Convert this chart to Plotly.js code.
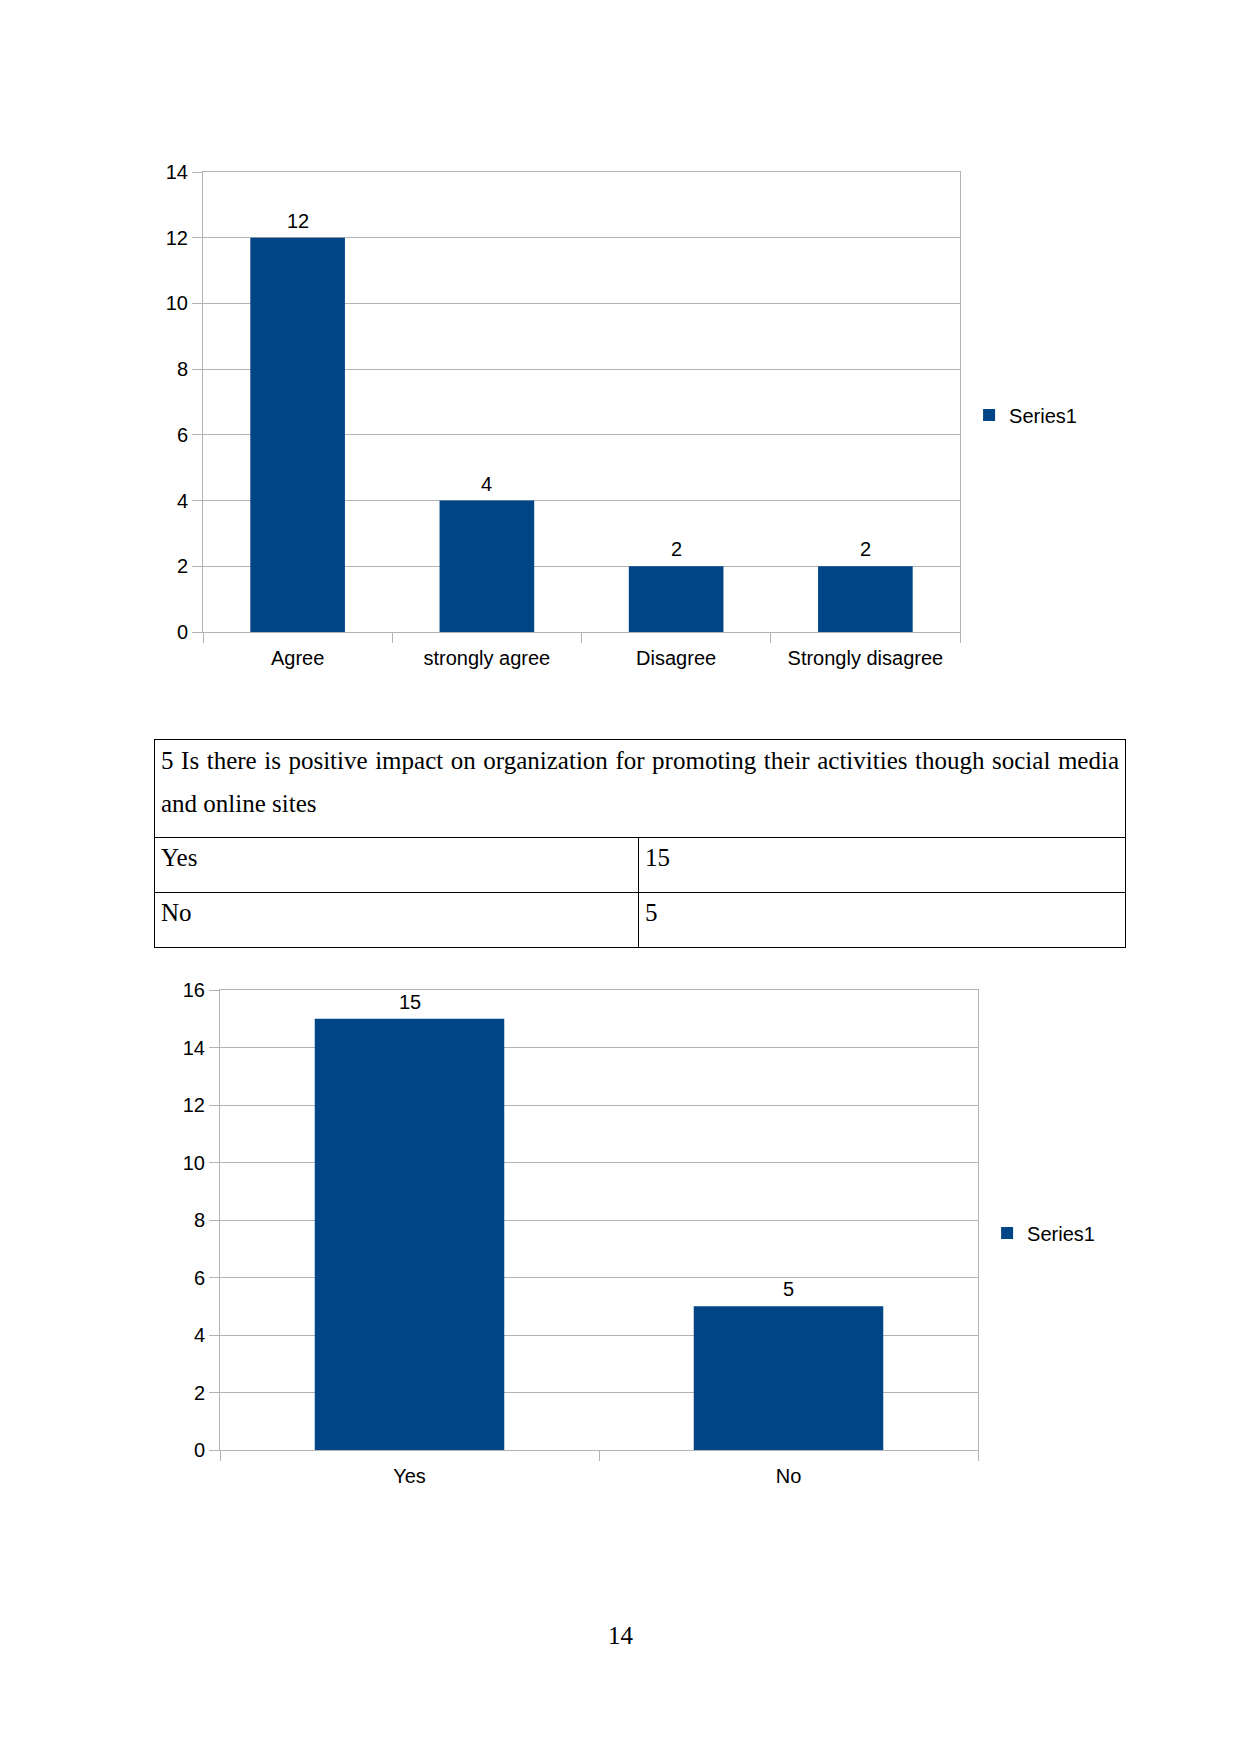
<!DOCTYPE html>
<html>
<head>
<meta charset="utf-8">
<script src="https://cdn.plot.ly/plotly-3.0.1.min.js"></script>
<style>
  html, body { margin: 0; padding: 0; background: #fff; }
  #page { position: relative; width: 1241px; height: 1754px; background: #fff; overflow: hidden; }
  #chart1 { position: absolute; left: 0; top: 100px; width: 1241px; height: 600px; }
  #chart2 { position: absolute; left: 0; top: 960px; width: 1241px; height: 580px; }
  #tbl { position: absolute; left: 154px; top: 739px; width: 972px; border-collapse: collapse;
         font-family: "Liberation Serif", "Times New Roman", serif; font-size: 25px; line-height: 42.5px; color: #000; }
  #tbl td { border: 1px solid #000; vertical-align: top; padding: 0 6px; }
  #tbl td.head { text-align: justify; height: 97px; padding-top: 0; }
  #tbl td.row { height: 54px; line-height: 39px; }
  #pnum { position: absolute; left: 0; width: 1241px; top: 1622px; text-align: center;
          font-family: "Liberation Serif", "Times New Roman", serif; font-size: 25px; color: #000; }
</style>
</head>
<body>
<div id="page">
  <div id="chart1"></div>
  <table id="tbl"></table>
  <div id="chart2"></div>
  <div id="pnum"></div>
</div>
<script>
// ---- data ----
const agreeCategories = ["Agree", "strongly agree", "Disagree", "Strongly disagree"];
const agreeValues = [12, 4, 2, 2];

const impactQuestion = "5 Is there is positive impact on organization for promoting their activities though social media and online sites";
const impactCategories = ["Yes", "No"];
const impactValues = [15, 5];

const seriesName = "Series1";
const pageNumber = "14";

// ---- styles ----
const BAR_COLOR = "#004586";
const GRID = "#b3b3b3";
const FONT = '"Liberation Sans", Arial, sans-serif';

function makeChart(divId, cats, vals, ymax, height, margin) {
  const trace = {
    type: "bar", x: cats, y: vals, name: seriesName,
    marker: { color: BAR_COLOR, line: { width: 0 } },
    hoverinfo: "skip"
  };
  const layout = {
    width: 1241, height: height,
    margin: margin,
    paper_bgcolor: "rgba(0,0,0,0)", plot_bgcolor: "#fff",
    font: { family: FONT, size: 20, color: "#000" },
    bargap: 0.5,
    showlegend: true,
    legend: { x: 1.012, xanchor: "left", y: 0.4717, yanchor: "middle",
              font: { family: FONT, size: 20, color: "#000" }, bgcolor: "rgba(0,0,0,0)" },
    xaxis: { type: "category", tickson: "boundaries", ticks: "outside", ticklen: 10,
             tickcolor: GRID, tickwidth: 1, showline: true, linecolor: GRID, linewidth: 1,
             mirror: true, showgrid: false, ticklabelstandoff: 8,
             tickfont: { family: FONT, size: 20, color: "#000" } },
    yaxis: { range: [0, ymax], tick0: 0, dtick: 2, ticks: "outside", ticklen: 10,
             tickcolor: GRID, tickwidth: 1, showline: true, linecolor: GRID, linewidth: 1,
             mirror: true, gridcolor: GRID, gridwidth: 1, zeroline: false,
             tickfont: { family: FONT, size: 20, color: "#000" } },
    annotations: cats.map((c, i) => ({
      x: c, y: vals[i], xref: "x", yref: "y", text: String(vals[i]),
      showarrow: false, yanchor: "bottom", yshift: 4,
      font: { family: FONT, size: 20, color: "#000" }
    }))
  };
  Plotly.newPlot(divId, [trace], layout, { staticPlot: true, displayModeBar: false });
}

makeChart("chart1", agreeCategories, agreeValues, 14, 600, { l: 203, r: 281, t: 72, b: 68, pad: 0 });
makeChart("chart2", impactCategories, impactValues, 16, 580, { l: 220, r: 263, t: 30, b: 90, pad: 0 });

// ---- table ----
const tbl = document.getElementById("tbl");
let html = '<colgroup><col style="width:484px"><col></colgroup>';
html += '<tr><td class="head" colspan="2">' + impactQuestion + '</td></tr>';
impactCategories.forEach((c, i) => {
  html += '<tr><td class="row">' + c + '</td><td class="row">' + impactValues[i] + '</td></tr>';
});
tbl.innerHTML = html;

document.getElementById("pnum").textContent = pageNumber;
</script>
</body>
</html>
